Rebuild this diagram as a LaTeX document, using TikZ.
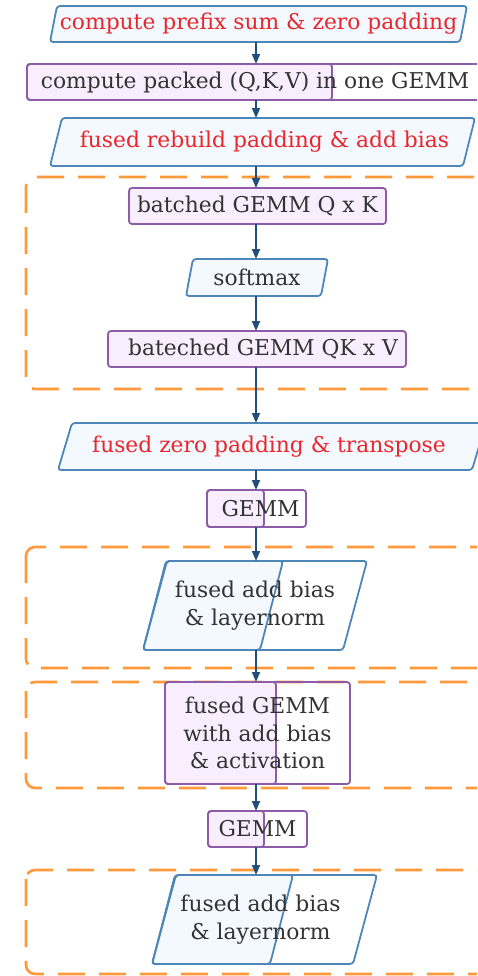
\documentclass[tikz,border=0pt]{standalone}
\usepackage{fontspec}
\setmainfont{DejaVu Serif}
\usetikzlibrary{arrows.meta,backgrounds}

\definecolor{txt}{HTML}{333333}
\definecolor{redtxt}{HTML}{E8262B}
\definecolor{blu}{HTML}{4F86B8}
\definecolor{blufill}{HTML}{F3F9FF}
\definecolor{purp}{HTML}{8C5CA6}
\definecolor{purpfill}{HTML}{F9EEFD}
\definecolor{org}{HTML}{FF9A3C}
\definecolor{arrc}{HTML}{214F7A}

% slanted input/output box drawn around a named node: #1 node, #2 skew, #3 style
\newcommand\slantbox[3]{%
  \path[#3] ([xshift=#2]#1.north west) -- (#1.north east)
    -- ([xshift=-#2]#1.south east) -- (#1.south west) -- cycle;}

\begin{document}
\begin{tikzpicture}[x=1pt,y=-1pt,
  lbl/.style={inner sep=0pt, outer sep=0pt, align=center, text=txt,
    font=\fontsize{21.8}{27.5}\selectfont},
  redlbl/.style={lbl, text=redtxt},
  procbox/.style={rectangle, rounded corners=3pt, draw=purp, fill=purpfill,
    line width=1.8pt},
  procedge/.style={procbox, fill=none},
  iofill/.style={draw=blu, fill=blufill, line width=1.8pt, rounded corners=3pt},
  ioedge/.style={draw=blu, line width=1.8pt, rounded corners=3pt},
  grp/.style={draw=org, line width=2.6pt, dash pattern=on 27pt off 14pt,
    rounded corners=9pt},
  arr/.style={draw=arrc, line width=1.6pt, -{Triangle[length=10pt,width=8pt]}}
]
\useasboundingbox (0,0) rectangle (477,976);
\clip (0,0) rectangle (477,976);

% dashed stage groups
\draw[grp] (26,177) rectangle (520,389);
\draw[grp] (26,547) rectangle (520,668);
\draw[grp] (26,682) rectangle (520,788);
\draw[grp] (26,870) rectangle (520,974);

\coordinate (ax) at (256,0);

% input / preprocessing
\node[redlbl, minimum width=417pt, minimum height=36pt] (p1) at (258.5,24)
  {compute prefix sum \& zero padding};

\node[procbox, lbl, minimum width=305pt, minimum height=36pt] (b2f) at (179.5,82) {};
\node[procedge, lbl, minimum width=456pt, minimum height=36pt] (b2) at (255,82)
  {compute packed (Q,K,V) in one GEMM};

\node[redlbl, minimum width=425pt, minimum height=48pt] (p3) at (262.5,142)
  {\hspace*{4pt}fused rebuild padding \& add bias};

% attention
\node[procbox, lbl, minimum width=257pt, minimum height=36pt] (b4) at (257.5,206)
  {batched GEMM Q x K};
\node[lbl, minimum width=142pt, minimum height=37pt] (sm) at (257,277.5) {softmax};
\node[procbox, lbl, minimum width=298pt, minimum height=36pt] (b6) at (257,349)
  {\hspace*{12pt}bateched GEMM QK x V};

\node[redlbl, minimum width=428pt, minimum height=47pt] (p7) at (272,446.5)
  {fused zero padding \& transpose\hspace*{6pt}};

\node[procbox, lbl, minimum width=57pt, minimum height=37pt] (g1f) at (235.5,508.5) {};
\node[procedge, lbl, minimum width=99pt, minimum height=37pt] (g1) at (256.5,508.5)
  {\hspace*{8pt}GEMM};

% first add bias & layernorm
\node[lbl, minimum width=140pt, minimum height=89pt] (p9f) at (213,605.5) {};
\node[lbl, minimum width=224pt, minimum height=89pt] (p9) at (255,605.5)
  {fused add bias\\\& layernorm};

% feed forward
\node[procbox, lbl, minimum width=111pt, minimum height=102pt] (b10f) at (220.5,733) {};
\node[procedge, lbl, minimum width=185pt, minimum height=102pt] (b10) at (257.5,733)
  {fused GEMM\\with add bias\\\& activation};

\node[procbox, lbl, minimum width=56pt, minimum height=36pt] (g2f) at (236,829) {};
\node[procedge, lbl, minimum width=99pt, minimum height=36pt] (g2) at (257.5,829)
  {GEMM};

% second add bias & layernorm
\node[lbl, minimum width=141pt, minimum height=89pt] (p12f) at (222.5,919.5) {};
\node[lbl, minimum width=225pt, minimum height=89pt] (p12) at (264.5,919.5)
  {\hspace*{-8pt}fused add bias\\\hspace*{-8pt}\& layernorm};

% slanted outlines behind the labels
\begin{pgfonlayer}{background}
  \slantbox{p1}{7pt}{iofill}
  \slantbox{p3}{12pt}{iofill}
  \slantbox{sm}{7pt}{iofill}
  \slantbox{p7}{14pt}{iofill}
  \slantbox{p9f}{23pt}{iofill}
  \slantbox{p9}{24pt}{ioedge}
  \slantbox{p12f}{23pt}{iofill}
  \slantbox{p12}{24pt}{ioedge}
\end{pgfonlayer}

% flow
\draw[arr] (p1.south -| ax) -- (b2.north -| ax);
\draw[arr] (b2.south -| ax) -- (p3.north -| ax);
\draw[arr] (p3.south -| ax) -- (b4.north -| ax);
\draw[arr] (b4.south -| ax) -- (sm.north -| ax);
\draw[arr] (sm.south -| ax) -- (b6.north -| ax);
\draw[arr] (b6.south -| ax) -- (p7.north -| ax);
\draw[arr] (p7.south -| ax) -- (g1.north -| ax);
\draw[arr] (g1.south -| ax) -- (p9.north -| ax);
\draw[arr] (p9.south -| ax) -- (b10.north -| ax);
\draw[arr] (b10.south -| ax) -- (g2.north -| ax);
\draw[arr] (g2.south -| ax) -- (p12.north -| ax);
\end{tikzpicture}
\end{document}
